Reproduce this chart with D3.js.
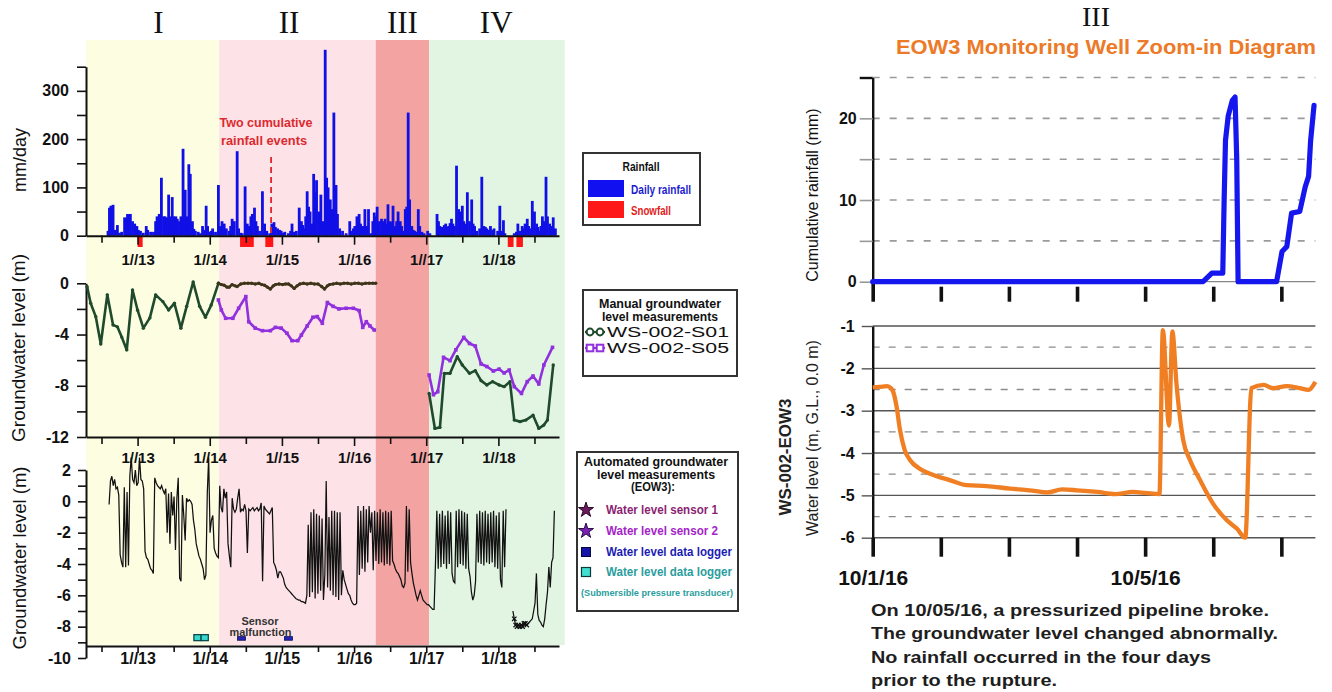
<!DOCTYPE html>
<html>
<head>
<meta charset="utf-8">
<script src="https://cdn.jsdelivr.net/npm/d3@7"></script>
<style>
  body { margin: 0; background: #fff; }
  svg { display: block; }
</style>
</head>
<body>
<svg id="chart" width="1332" height="692"></svg>
<script>
// ---------- data (decimal years on the left, days after 10/1/16 on the right) ----------
const phaseNames = ["I", "II", "III", "IV"];
const phaseStart = [2012.285, 2014.13, 2016.30, 2017.04];
const phaseEnd = [2014.13, 2016.30, 2017.04, 2018.92];
const phaseLabelAt = [2013.29, 2015.10, 2016.67, 2017.97];
const phaseColors = ["#fdfde2", "#fde3e7", "#f4a3a3", "#e2f5e3"];

const yearTicks = [2013, 2014, 2015, 2016, 2017, 2018];
const halfTicks = [2012.5, 2013.5, 2014.5, 2015.5, 2016.5, 2017.5, 2018.5];
const rainTicks = [0, 50, 100, 150, 200, 250, 300, 350];
const manualTicks = [0, -2, -4, -6, -8, -10, -12];
const autoTicks = [2, 1, 0, -1, -2, -3, -4, -5, -6, -7, -8, -9, -10];

// daily rainfall (mm/day)
const dailyRain = [[2012.59,10],[2012.61,58],[2012.63,62],[2012.66,64],[2012.69,12],[2012.72,22],[2012.75,6],[2012.78,8],[2012.82,38],[2012.84,36],[2012.86,45],[2012.88,44],[2012.90,45],[2012.93,30],[2012.96,25],[2012.99,20],[2013.01,12],[2013.04,10],[2013.08,6],[2013.12,20],[2013.14,12],[2013.18,8],[2013.22,8],[2013.25,30],[2013.27,40],[2013.30,45],[2013.33,120],[2013.36,40],[2013.38,40],[2013.41,38],[2013.43,85],[2013.45,40],[2013.48,80],[2013.50,40],[2013.53,40],[2013.55,35],[2013.58,30],[2013.60,40],[2013.63,180],[2013.66,95],[2013.68,40],[2013.71,148],[2013.73,128],[2013.76,30],[2013.78,14],[2013.80,10],[2013.84,8],[2013.87,5],[2013.90,20],[2013.93,12],[2013.95,62],[2013.97,20],[2014.00,8],[2014.02,10],[2014.04,15],[2014.08,8],[2014.12,105],[2014.14,20],[2014.17,30],[2014.20,25],[2014.23,15],[2014.27,10],[2014.29,20],[2014.31,35],[2014.34,30],[2014.38,175],[2014.40,15],[2014.43,6],[2014.45,5],[2014.49,102],[2014.52,25],[2014.55,20],[2014.57,40],[2014.59,45],[2014.62,58],[2014.64,30],[2014.66,20],[2014.69,10],[2014.73,92],[2014.76,25],[2014.79,10],[2014.83,5],[2014.86,25],[2014.89,28],[2014.91,18],[2014.94,15],[2014.97,12],[2014.99,10],[2015.02,6],[2015.04,8],[2015.09,5],[2015.12,10],[2015.14,25],[2015.17,8],[2015.20,10],[2015.24,58],[2015.27,30],[2015.29,22],[2015.31,15],[2015.33,40],[2015.35,92],[2015.37,60],[2015.39,50],[2015.42,25],[2015.44,128],[2015.46,90],[2015.48,115],[2015.51,50],[2015.54,85],[2015.57,30],[2015.60,385],[2015.62,120],[2015.64,100],[2015.67,75],[2015.69,55],[2015.72,255],[2015.75,105],[2015.77,45],[2015.80,15],[2015.84,10],[2015.89,5],[2015.94,30],[2015.96,10],[2015.99,15],[2016.01,20],[2016.04,40],[2016.07,45],[2016.09,25],[2016.12,20],[2016.15,55],[2016.18,20],[2016.20,55],[2016.23,5],[2016.26,30],[2016.28,48],[2016.30,40],[2016.32,60],[2016.35,30],[2016.38,35],[2016.40,30],[2016.43,35],[2016.45,25],[2016.47,65],[2016.50,30],[2016.52,28],[2016.54,62],[2016.57,20],[2016.59,30],[2016.61,50],[2016.64,30],[2016.66,20],[2016.68,10],[2016.71,55],[2016.73,60],[2016.75,255],[2016.77,75],[2016.80,20],[2016.82,12],[2016.84,10],[2016.87,8],[2016.89,55],[2016.91,20],[2016.94,8],[2016.97,5],[2017.02,10],[2017.05,5],[2017.15,45],[2017.17,30],[2017.19,20],[2017.22,18],[2017.25,22],[2017.27,25],[2017.29,18],[2017.31,20],[2017.33,26],[2017.35,35],[2017.37,25],[2017.39,20],[2017.42,145],[2017.45,55],[2017.48,50],[2017.50,62],[2017.52,30],[2017.55,25],[2017.57,90],[2017.60,30],[2017.63,75],[2017.65,25],[2017.67,20],[2017.70,10],[2017.74,15],[2017.77,122],[2017.80,20],[2017.82,18],[2017.84,15],[2017.87,12],[2017.89,20],[2017.92,12],[2017.94,15],[2017.99,10],[2018.02,62],[2018.04,10],[2018.07,32],[2018.09,5],[2018.22,5],[2018.25,8],[2018.27,25],[2018.30,10],[2018.33,20],[2018.35,15],[2018.37,25],[2018.40,35],[2018.42,20],[2018.44,15],[2018.47,72],[2018.50,50],[2018.53,25],[2018.55,18],[2018.57,10],[2018.59,20],[2018.61,40],[2018.63,30],[2018.66,122],[2018.68,40],[2018.71,25],[2018.73,20],[2018.76,38],[2018.79,15]];

const snowStart = [2013.00, 2014.42, 2014.77, 2018.13, 2018.25];
const snowEnd = [2013.07, 2014.61, 2014.88, 2018.21, 2018.34];
const cumulativeEventAt = 2014.85;

// manual groundwater level (m)
const s01PhaseI = [[2012.30,-0.26],[2012.35,-1.56],[2012.42,-2.6],[2012.49,-4.74],[2012.58,-0.9],[2012.66,-3.25],[2012.72,-3.4],[2012.78,-4.2],[2012.85,-5.2],[2012.93,-0.52],[2013.00,-2.1],[2013.08,-3.5],[2013.17,-2.7],[2013.25,-0.9],[2013.35,-1.43],[2013.43,-2.08],[2013.51,-1.56],[2013.60,-3.5],[2013.68,-1.8],[2013.77,0.1],[2013.86,-1.8],[2013.94,-2.65],[2014.02,-1.7],[2014.12,0]];
const s01PhaseII = [[2014.12,0],[2014.16,-0.1],[2014.20,-0.15],[2014.24,-0.3],[2014.27,-0.3],[2014.31,-0.1],[2014.35,-0.2],[2014.38,-0.25],[2014.43,-0.05],[2014.48,0],[2014.53,0],[2014.58,0],[2014.63,-0.05],[2014.68,0],[2014.72,-0.1],[2014.76,-0.15],[2014.80,-0.3],[2014.84,-0.45],[2014.88,-0.2],[2014.91,-0.1],[2014.96,-0.05],[2015.01,-0.1],[2015.05,-0.05],[2015.09,-0.05],[2015.13,-0.2],[2015.17,-0.4],[2015.21,-0.2],[2015.25,-0.05],[2015.30,0],[2015.35,-0.05],[2015.40,0],[2015.45,-0.05],[2015.50,-0.05],[2015.55,-0.25],[2015.59,-0.45],[2015.63,-0.2],[2015.66,-0.1],[2015.71,-0.05],[2015.76,0],[2015.81,-0.05],[2015.86,0],[2015.91,0],[2015.96,-0.05],[2016.01,0],[2016.06,0],[2016.11,-0.05],[2016.16,0],[2016.21,0],[2016.26,0],[2016.30,0]];
const s01PhaseIV = [[2017.04,-8.6],[2017.12,-11.33],[2017.19,-11.25],[2017.25,-7.03],[2017.33,-7.03],[2017.43,-5.73],[2017.50,-6.38],[2017.60,-7.03],[2017.68,-6.82],[2017.76,-7.6],[2017.84,-7.94],[2017.92,-7.68],[2018.01,-7.94],[2018.08,-8.07],[2018.16,-7.68],[2018.22,-10.68],[2018.30,-10.8],[2018.38,-10.68],[2018.48,-10.3],[2018.56,-11.33],[2018.63,-11.07],[2018.68,-10.68],[2018.76,-6.38]];
const s05PhaseII = [[2014.12,-1.3],[2014.16,-2.08],[2014.22,-2.73],[2014.32,-2.73],[2014.40,-1.95],[2014.50,-1.04],[2014.54,-3.0],[2014.63,-3.5],[2014.73,-3.7],[2014.84,-3.7],[2014.91,-3.44],[2014.99,-3.5],[2015.07,-3.9],[2015.14,-4.48],[2015.22,-4.48],[2015.27,-4.04],[2015.35,-3.33],[2015.43,-2.65],[2015.49,-2.6],[2015.56,-3.12],[2015.63,-1.5],[2015.71,-1.8],[2015.79,-2.0],[2015.89,-1.95],[2015.99,-1.95],[2016.07,-2.13],[2016.12,-3.44],[2016.17,-3.0],[2016.22,-3.33],[2016.28,-3.65]];
const s05PhaseIV = [[2017.04,-7.16],[2017.10,-8.7],[2017.16,-8.46],[2017.24,-5.78],[2017.33,-6.04],[2017.41,-5.2],[2017.52,-4.22],[2017.60,-4.7],[2017.68,-4.9],[2017.76,-6.3],[2017.84,-6.5],[2017.93,-6.85],[2018.01,-6.7],[2018.08,-7.0],[2018.15,-6.77],[2018.22,-8.07],[2018.32,-8.6],[2018.40,-7.68],[2018.48,-7.24],[2018.56,-7.86],[2018.63,-6.38],[2018.75,-5.0]];

// automated groundwater level (EOW3), one reading per week from early Aug 2012
const autoStart = 2012.605;
const autoStepDays = 7;
const autoLevel = [
  -0.2,1.3,1.6,1.0,1.4,0.8,0.9,0.4,-3.4,-3.9,
  -4.2,0.9,-4.2,0.6,-4.1,1.6,2.8,1.4,1.2,2.0,
  1.0,1.2,2.8,1.4,1.3,0.8,-3.2,-3.6,-3.7,-4.0,
  -4.3,-4.4,-4.6,1.5,1.2,1.0,0.9,0.8,1.0,0.7,
  0.5,0.8,-2.0,0.5,-2.7,0.6,-0.9,0.3,-3.1,0.2,
  1.5,-4.9,-5.1,0.4,-0.9,-2.5,0.2,0.0,0.1,0.0,
  -0.2,-1.2,-1.8,-2.7,-3.1,-3.5,-3.7,-4.0,-4.3,-5.0,
  -4.7,0.5,2.8,-2.0,-1.2,-0.9,-3.0,-3.3,-3.5,-3.6,
  1.0,-0.4,-0.7,0.8,0.2,0.6,-2.7,-3.5,-4.2,0.2,
  -0.5,-0.7,-0.5,0.2,0.8,-0.7,-0.5,-0.6,-0.2,-0.6,
  -3.3,-0.5,-0.6,-0.5,-0.4,-0.6,-0.5,-0.4,-0.6,-0.5,
  -0.1,-5.1,-0.3,-0.5,-0.6,-0.7,-0.8,-0.6,-0.4,-3.9,
  -4.1,-4.4,-4.9,-4.5,-4.5,-4.7,-4.9,-5.3,-5.5,-5.6,
  -5.7,-5.8,-5.9,-6.0,-6.1,-6.2,-6.25,-6.3,-6.3,-6.4,
  -6.4,-6.45,-6.5,-6.0,-1.5,-6.1,-0.7,-5.8,-0.5,-6.2,
  -0.8,-5.9,-0.9,-5.7,-1.1,-6.3,-4.7,1.3,-5.5,-1.0,
  -5.7,-0.6,-6.0,-0.6,-6.1,-0.7,-6.3,-0.7,-6.0,-4.4,
  -5.0,-5.3,-5.6,-5.9,-6.0,-6.3,-6.5,-6.6,-6.6,-6.5,
  -0.3,-4.7,-0.6,-4.3,-0.3,-4.5,-0.5,-3.9,-0.3,-2.0,
  -0.7,-4.4,-0.6,-3.8,-0.7,-4.0,-0.5,-3.9,-0.7,-4.1,
  -0.6,-4.0,-0.7,-4.1,-0.6,-3.8,-4.0,-4.3,-4.5,-4.6,
  -4.8,-5.0,-5.4,-5.5,-5.2,-0.3,-4.5,-0.5,-3.9,-4.6,
  -5.2,-5.6,-6.0,-6.3,-6.0,-5.7,-6.0,-6.3,-6.4,-6.5,
  -6.6,-6.6,-6.7,-6.8,-6.9,-6.9,-4.0,-0.6,-4.3,-0.8,
  -4.2,-0.6,-4.0,-0.9,-4.3,-0.6,-4.0,-0.7,-4.6,-5.1,
  -5.2,-0.6,-4.2,-0.5,-4.0,-0.6,-4.1,-0.7,-4.3,-0.8,
  -4.3,-4.8,-5.8,-6.3,-6.0,-5.1,-0.8,-3.9,-0.6,-4.0,
  -0.7,-4.1,-0.6,-3.9,-0.8,-4.0,-0.7,-3.9,-0.6,-4.2,
  -0.9,-4.3,-0.7,-5.0,-5.5,-0.6,-4.2,-0.5,null,null,
  null,null,-7.0,-7.5,-7.9,-8.0,-7.9,-8.0,-7.9,-8.0,
  -7.8,-7.8,-7.9,-7.8,-7.7,-7.6,-7.5,-7.0,-6.5,-4.6,
  -7.2,-7.6,-7.7,-7.9,-8.0,-7.5,-6.6,-5.8,-4.2,-5.5,-3.9,-3.6,-0.6
];
const autoCrossFrom = 293, autoCrossTo = 303;
const submersibleYears = [2013.83, 2013.93];
const loggerYears = [2014.44, 2015.09];
const markerLevel = -8.7;

// EOW3 zoom-in
const dayTicks = [0, 1, 2, 3, 4, 5, 6];
const dayLabels = { 0: "10/1/16", 4: "10/5/16" };
const cumTicks = [0, 5, 10, 15, 20, 25];
const wlTicks = [-1, -1.5, -2, -2.5, -3, -3.5, -4, -4.5, -5, -5.5, -6];
const cumRain = [[0,0],[4.85,0],[4.98,1.06],[5.14,1.06],[5.16,10],[5.18,17.3],[5.22,20.3],[5.28,22.2],[5.32,22.6],[5.345,15],[5.365,0],[5.93,0],[6.01,3.7],[6.08,4.3],[6.15,8.4],[6.27,8.6],[6.35,11.6],[6.40,12.9],[6.43,17.3],[6.48,21.6]];
const waterLevel = [[0,-2.45],[0.1,-2.44],[0.21,-2.42],[0.27,-2.47],[0.30,-2.55],[0.35,-2.9],[0.40,-3.45],[0.47,-3.93],[0.55,-4.17],[0.69,-4.37],[0.89,-4.52],[1.13,-4.64],[1.38,-4.76],[1.67,-4.78],[2.02,-4.84],[2.3,-4.88],[2.57,-4.93],[2.78,-4.86],[3.0,-4.88],[3.3,-4.92],[3.56,-4.97],[3.82,-4.92],[4.0,-4.94],[4.21,-4.97],[4.26,-1.1],[4.35,-3.35],[4.40,-1.13],[4.46,-2.36],[4.56,-3.7],[4.66,-4.17],[4.81,-4.65],[5.0,-5.2],[5.2,-5.59],[5.35,-5.79],[5.47,-6.0],[5.56,-2.47],[5.74,-2.39],[5.88,-2.47],[6.08,-2.42],[6.27,-2.47],[6.40,-2.51],[6.50,-2.32]];

const noteLines = [
  "On 10/05/16, a pressurized pipeline broke.",
  "The groundwater level changed abnormally.",
  "No rainfall occurred in the four days",
  "prior to the rupture."
];
const noteWidths = [398, 407, 340, 186];

// ---------- helpers ----------
const sans = "'Liberation Sans', Arial, sans-serif";
const narrow = "'Liberation Sans Narrow', 'Arial Narrow', 'Liberation Sans', sans-serif";
const serif = "'Liberation Serif', 'Times New Roman', serif";

const svg = d3.select("#chart");
svg.append("rect").attr("width", 1332).attr("height", 692).attr("fill", "#fff");

function label(x, y, str, o = {}) {
  const t = svg.append("text")
    .attr("x", x).attr("y", y).text(str)
    .attr("font-family", o.family || sans)
    .attr("font-size", o.size || 12)
    .attr("font-weight", o.weight || "normal")
    .attr("fill", o.fill || "#111")
    .attr("text-anchor", o.anchor || "start");
  if (o.len) t.attr("textLength", o.len).attr("lengthAdjust", "spacingAndGlyphs");
  if (o.rotate) t.attr("transform", `rotate(-90,${x},${y})`);
  return t;
}

function styleAxis(g, size) {
  g.attr("font-family", sans).attr("font-size", size).attr("font-weight", "bold");
  g.select(".domain").attr("stroke", "#111").attr("stroke-width", 2);
  g.selectAll(".tick line").attr("stroke", "#111").attr("stroke-width", 1.6);
  g.selectAll(".tick text").attr("fill", "#111");
}

const yearFmt = d => "1//" + String(d).slice(2);

// ---------- left: shared time scale ----------
const x = d3.scaleLinear().domain([2012.285, 2018.84]).range([86, 559]);

// phase backgrounds
svg.append("g").selectAll("rect")
  .data(phaseStart)
  .join("rect")
  .attr("x", d => x(d))
  .attr("width", (d, i) => x(phaseEnd[i]) - x(d))
  .attr("y", 40)
  .attr("height", 605)
  .attr("fill", (d, i) => phaseColors[i]);

svg.append("g").selectAll("text")
  .data(phaseNames)
  .join("text")
  .attr("x", (d, i) => x(phaseLabelAt[i]))
  .attr("y", 33)
  .attr("text-anchor", "middle")
  .attr("font-family", serif)
  .attr("font-size", 31)
  .attr("fill", "#111")
  .text(d => d);

// ---------- top: rainfall ----------
const yRain = d3.scaleLinear().domain([0, 350]).range([235.7, 66.7]);

svg.append("g").selectAll("rect")
  .data(dailyRain)
  .join("rect")
  .attr("x", d => x(d[0]) - 1.4)
  .attr("width", 2.8)
  .attr("y", d => yRain(d[1]))
  .attr("height", d => yRain(0) - yRain(d[1]))
  .attr("fill", "#1010e6");

svg.append("g").selectAll("rect")
  .data(snowStart)
  .join("rect")
  .attr("x", d => x(d))
  .attr("width", (d, i) => x(snowEnd[i]) - x(d))
  .attr("y", 237)
  .attr("height", 10)
  .attr("fill", "#ff1616");

svg.append("line")
  .attr("x1", x(cumulativeEventAt)).attr("x2", x(cumulativeEventAt))
  .attr("y1", 157).attr("y2", 234)
  .attr("stroke", "#e0262c").attr("stroke-width", 1.8).attr("stroke-dasharray", "6,4");
label(266, 127, "Two cumulative", { size: 12, weight: "bold", fill: "#dc2a30", anchor: "middle", len: 93 });
label(264, 145, "rainfall events", { size: 12, weight: "bold", fill: "#dc2a30", anchor: "middle", len: 86 });

svg.append("g").attr("transform", "translate(86,0)")
  .call(d3.axisLeft(yRain).tickValues(rainTicks).tickSize(9).tickPadding(8).tickSizeOuter(0)
    .tickFormat(d => d % 100 === 0 ? d : ""))
  .call(g => styleAxis(g, 16));

svg.append("g").attr("transform", `translate(0,${yRain(0)})`)
  .call(d3.axisBottom(x).tickValues(yearTicks).tickSize(9).tickPadding(10).tickSizeOuter(0).tickFormat(yearFmt))
  .call(g => styleAxis(g, 15));
svg.append("g").attr("transform", `translate(0,${yRain(0)})`)
  .call(d3.axisBottom(x).tickValues(halfTicks).tickSize(7).tickFormat(""))
  .call(g => { styleAxis(g, 15); g.select(".domain").remove(); });

label(26, 160, "mm/day", { size: 18, anchor: "middle", rotate: true });

// ---------- middle: manual measurements ----------
const yMan = d3.scaleLinear().domain([-12, 0]).range([437, 283.3]);
const manLine = d3.line().x(d => x(d[0])).y(d => yMan(d[1]));

svg.append("g").attr("transform", "translate(86,0)")
  .call(d3.axisLeft(yMan).tickValues(manualTicks).tickSize(9).tickPadding(8).tickSizeOuter(0)
    .tickFormat(d => d % 4 === 0 ? String(d) : ""))
  .call(g => styleAxis(g, 16));

svg.append("g").attr("transform", "translate(0,437)")
  .call(d3.axisBottom(x).tickValues(yearTicks).tickSize(9).tickPadding(6).tickSizeOuter(0).tickFormat(yearFmt))
  .call(g => styleAxis(g, 15));
svg.append("g").attr("transform", "translate(0,437)")
  .call(d3.axisBottom(x).tickValues(halfTicks).tickSize(7).tickFormat(""))
  .call(g => { styleAxis(g, 15); g.select(".domain").remove(); });

const manualSeries = [
  { data: s01PhaseI, color: "#1f4a2c", shape: "circle" },
  { data: s01PhaseII, color: "#3e3419", shape: "circle" },
  { data: s01PhaseIV, color: "#1f4a2c", shape: "circle" },
  { data: s05PhaseII, color: "#9130dd", shape: "square" },
  { data: s05PhaseIV, color: "#9130dd", shape: "square" }
];
manualSeries.forEach(s => {
  svg.append("path").datum(s.data)
    .attr("d", manLine).attr("fill", "none")
    .attr("stroke", s.color).attr("stroke-width", 2.6).attr("stroke-linejoin", "round");
  if (s.shape === "circle") {
    svg.append("g").selectAll("circle").data(s.data).join("circle")
      .attr("cx", d => x(d[0])).attr("cy", d => yMan(d[1])).attr("r", 1.7)
      .attr("fill", s.color);
  } else {
    svg.append("g").selectAll("rect").data(s.data).join("rect")
      .attr("x", d => x(d[0]) - 1.8).attr("y", d => yMan(d[1]) - 1.8)
      .attr("width", 3.6).attr("height", 3.6).attr("fill", s.color);
  }
});

label(25, 348, "Groundwater level (m)", { size: 19, anchor: "middle", rotate: true });

// ---------- bottom: automated measurements ----------
const yAuto = d3.scaleLinear().domain([-10, 2]).range([658, 470]);
const autoPoints = autoLevel.map((v, i) => [autoStart + i * autoStepDays / 365.25, v]);

svg.append("path").datum(autoPoints)
  .attr("d", d3.line().defined(d => d[1] !== null).x(d => x(d[0])).y(d => yAuto(d[1])))
  .attr("fill", "none").attr("stroke", "#111").attr("stroke-width", 1.25);

svg.append("g").selectAll("path")
  .data(autoPoints.slice(autoCrossFrom, autoCrossTo))
  .join("path")
  .attr("transform", d => `translate(${x(d[0])},${yAuto(d[1])})`)
  .attr("d", "M-2.2,-2.2L2.2,2.2M-2.2,2.2L2.2,-2.2")
  .attr("stroke", "#111").attr("stroke-width", 1.3);

svg.append("g").selectAll("rect")
  .data(submersibleYears)
  .join("rect")
  .attr("x", d => x(d) - 3.6).attr("y", yAuto(markerLevel) - 3)
  .attr("width", 7.2).attr("height", 6)
  .attr("fill", "#38d8cc").attr("stroke", "#0c4a50").attr("stroke-width", 1.3);
svg.append("g").selectAll("rect")
  .data(loggerYears)
  .join("rect")
  .attr("x", d => x(d) - 4).attr("y", yAuto(markerLevel) - 1)
  .attr("width", 8).attr("height", 3.6)
  .attr("fill", "#2424b8").attr("stroke", "#0b0b50").attr("stroke-width", 0.8);
label(260, 625, "Sensor", { size: 10.5, weight: "bold", fill: "#333", anchor: "middle", len: 37 });
label(260.5, 636, "malfunction", { size: 10.5, weight: "bold", fill: "#333", anchor: "middle", len: 62 });

svg.append("g").attr("transform", "translate(86,0)")
  .call(d3.axisLeft(yAuto).tickValues(autoTicks).tickSize(8).tickPadding(7).tickSizeOuter(0)
    .tickFormat(d => d % 2 === 0 ? String(d) : ""))
  .call(g => styleAxis(g, 16));

svg.append("g").attr("transform", "translate(0,646)")
  .call(d3.axisBottom(x).tickValues(yearTicks).tickSize(7).tickPadding(0).tickSizeOuter(0).tickFormat(yearFmt))
  .call(g => styleAxis(g, 16));
svg.append("g").attr("transform", "translate(0,646)")
  .call(d3.axisBottom(x).tickValues(halfTicks).tickSize(6).tickFormat(""))
  .call(g => { styleAxis(g, 16); g.select(".domain").remove(); });

label(26, 558, "Groundwater level (m)", { size: 18.5, anchor: "middle", rotate: true });

// ---------- legends ----------
function box(x0, y0, w, h) {
  svg.append("rect").attr("x", x0).attr("y", y0).attr("width", w).attr("height", h)
    .attr("fill", "#fff").attr("stroke", "#333").attr("stroke-width", 2);
}

box(583, 153, 117, 72);
label(641, 171, "Rainfall", { family: narrow, size: 13, weight: "bold", anchor: "middle", len: 37 });
svg.append("rect").attr("x", 588).attr("y", 180).attr("width", 36).attr("height", 17).attr("fill", "#1010f0");
svg.append("rect").attr("x", 588).attr("y", 201).attr("width", 36).attr("height", 17).attr("fill", "#ff1818");
label(631, 194, "Daily rainfall", { family: narrow, size: 13, weight: "bold", fill: "#1c1cd0", len: 60 });
label(631, 215, "Snowfall", { family: narrow, size: 13, weight: "bold", fill: "#e01c1c", len: 40 });

box(583, 290, 154, 86);
label(660, 308, "Manual groundwater", { size: 12.5, weight: "bold", anchor: "middle", len: 122 });
label(660, 321, "level measurements", { size: 12.5, weight: "bold", anchor: "middle", len: 116 });
svg.append("line").attr("x1", 585).attr("x2", 605).attr("y1", 332).attr("y2", 332)
  .attr("stroke", "#1f4a2c").attr("stroke-width", 2.2);
svg.append("g").selectAll("circle").data([590, 600]).join("circle")
  .attr("cx", d => d).attr("cy", 332).attr("r", 3.4)
  .attr("fill", "#fff").attr("stroke", "#1f4a2c").attr("stroke-width", 2);
svg.append("line").attr("x1", 585).attr("x2", 605).attr("y1", 348).attr("y2", 348)
  .attr("stroke", "#9130dd").attr("stroke-width", 2.2);
svg.append("g").selectAll("rect").data([590, 600]).join("rect")
  .attr("x", d => d - 3.3).attr("y", 344.7).attr("width", 6.6).attr("height", 6.6)
  .attr("fill", "#fff").attr("stroke", "#9130dd").attr("stroke-width", 2);
label(607, 337, "WS-002-S01", { size: 15, len: 122 });
label(607, 353, "WS-002-S05", { size: 15, len: 122 });

box(577, 452, 161, 159);
label(656, 466, "Automated groundwater", { size: 12.5, weight: "bold", anchor: "middle", len: 144 });
label(656, 478.5, "level measurements", { size: 12.5, weight: "bold", anchor: "middle", len: 118 });
label(653, 491, "(EOW3):", { size: 12.5, weight: "bold", anchor: "middle", len: 44 });
const star = d3.symbol().type(d3.symbolStar).size(70);
svg.append("path").attr("d", star).attr("transform", "translate(586,510)")
  .attr("fill", "#6a1a5e").attr("stroke", "#2a0a26").attr("stroke-width", 1);
svg.append("path").attr("d", star).attr("transform", "translate(586,531)")
  .attr("fill", "#7a22b4").attr("stroke", "#2a0a40").attr("stroke-width", 1);
svg.append("rect").attr("x", 581.5).attr("y", 547.5).attr("width", 9).attr("height", 9)
  .attr("fill", "#1515a8").attr("stroke", "#05053a").attr("stroke-width", 1);
svg.append("rect").attr("x", 581.5).attr("y", 567.5).attr("width", 9).attr("height", 9)
  .attr("fill", "#40e0d0").attr("stroke", "#0c3a3a").attr("stroke-width", 1.2);
label(606, 514, "Water level sensor 1", { family: narrow, size: 12.5, weight: "bold", fill: "#8c1f72", len: 112 });
label(606, 535, "Water level sensor 2", { family: narrow, size: 12.5, weight: "bold", fill: "#a424c8", len: 112 });
label(606, 556, "Water level data logger", { family: narrow, size: 12.5, weight: "bold", fill: "#1c1cb4", len: 126 });
label(606, 576, "Water level data logger", { family: narrow, size: 12.5, weight: "bold", fill: "#2a9e9e", len: 126 });
label(657, 596, "(Submersible pressure transducer)", { family: narrow, size: 9.5, weight: "bold", fill: "#2a9e9e", anchor: "middle", len: 152 });

// ---------- right: EOW3 zoom-in ----------
const xd = d3.scaleLinear().domain([0, 6.5]).range([872.7, 1315.4]);
const yc = d3.scaleLinear().domain([0, 25]).range([281.7, 77.5]);
const yw = d3.scaleLinear().domain([-6, -1]).range([537.7, 326]);

label(1096, 26, "III", { family: serif, size: 28, anchor: "middle" });
label(1106, 54, "EOW3 Monitoring Well Zoom-in Diagram",
  { family: narrow, size: 20, weight: "bold", fill: "#ec7a28", anchor: "middle", len: 420 });

// cumulative rainfall
svg.append("g").selectAll("line")
  .data(cumTicks.filter(v => v > 0))
  .join("line")
  .attr("x1", xd(0)).attr("x2", xd(6.5))
  .attr("y1", d => yc(d)).attr("y2", d => yc(d))
  .attr("stroke", "#9a9a9a").attr("stroke-width", 1.6).attr("stroke-dasharray", "7,10");
svg.append("line").attr("x1", xd(0)).attr("x2", xd(6.5)).attr("y1", yc(0)).attr("y2", yc(0))
  .attr("stroke", "#888").attr("stroke-width", 1.2);

svg.append("g").attr("transform", `translate(${xd(0)},0)`)
  .call(d3.axisLeft(yc).tickValues(cumTicks).tickSize(13).tickPadding(3).tickSizeOuter(0)
    .tickFormat(d => d % 10 === 0 ? d : ""))
  .call(g => {
    styleAxis(g, 16);
    g.select(".domain").attr("stroke-width", 2.4);
    g.selectAll(".tick line").attr("stroke", d => d === 25 ? "#111" : "#999").attr("stroke-width", d => d === 25 ? 2.4 : 1.6);
  });
svg.append("g").attr("transform", `translate(0,${yc(0)})`)
  .call(d3.axisBottom(xd).tickValues(dayTicks).tickSize(20).tickFormat(""))
  .call(g => {
    g.select(".domain").remove();
    g.selectAll(".tick line").attr("stroke", "#111").attr("stroke-width", 3.6)
      .attr("y1", (d) => d === 0 ? 0 : 5);
  });

svg.append("path").datum(cumRain)
  .attr("d", d3.line().x(d => xd(d[0])).y(d => yc(d[1])))
  .attr("fill", "none").attr("stroke", "#1616ee").attr("stroke-width", 5.2)
  .attr("stroke-linejoin", "round").attr("stroke-linecap", "round");

label(818, 195, "Cumulative rainfall (mm)", { size: 16, anchor: "middle", rotate: true });

// water level
svg.append("g").selectAll("line")
  .data(wlTicks)
  .join("line")
  .attr("x1", xd(0)).attr("x2", xd(6.5))
  .attr("y1", d => yw(d)).attr("y2", d => yw(d))
  .attr("stroke", d => Number.isInteger(d) ? "#555" : "#8c8c8c")
  .attr("stroke-width", d => Number.isInteger(d) ? 1.4 : 1.3)
  .attr("stroke-dasharray", d => Number.isInteger(d) ? null : "7,9");

svg.append("g").attr("transform", `translate(${xd(0)},0)`)
  .call(d3.axisLeft(yw).tickValues(wlTicks.filter(Number.isInteger)).tickSize(11).tickPadding(7).tickSizeOuter(0)
    .tickFormat(d => String(d)))
  .call(g => {
    styleAxis(g, 16);
    g.select(".domain").attr("stroke-width", 2.4);
    g.selectAll(".tick line").attr("stroke", "#555").attr("stroke-width", 1.4);
  });
svg.append("g").attr("transform", `translate(0,${yw(-6)})`)
  .call(d3.axisBottom(xd).tickValues(dayTicks).tickSize(19).tickPadding(13).tickFormat(d => dayLabels[d] || ""))
  .call(g => {
    g.select(".domain").remove();
    g.attr("font-family", sans).attr("font-size", 21).attr("font-weight", "bold");
    g.selectAll(".tick line").attr("stroke", "#111").attr("stroke-width", 3.6);
    g.selectAll(".tick text").attr("fill", "#111");
  });

svg.append("path").datum(waterLevel)
  .attr("d", d3.line().curve(d3.curveMonotoneX).x(d => xd(d[0])).y(d => yw(d[1])))
  .attr("fill", "none").attr("stroke", "#f07e22").attr("stroke-width", 4.3)
  .attr("stroke-linejoin", "round");

label(791, 457, "WS-002-EOW3", { size: 17, weight: "bold", anchor: "middle", rotate: true, fill: "#222" });
label(818, 438, "Water level (m, G.L., 0.0 m)", { size: 16, anchor: "middle", rotate: true, fill: "#222" });

noteLines.forEach((t, i) => {
  label(871, 616 + i * 23.4, t, { size: 16, weight: "bold", fill: "#1e1e1e", len: noteWidths[i] });
});
</script>
</body>
</html>
